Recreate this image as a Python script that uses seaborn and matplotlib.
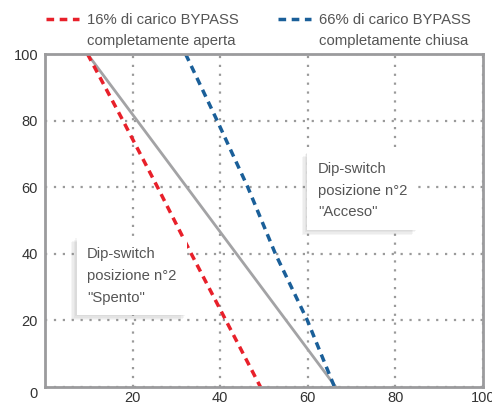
import numpy as np
import pandas as pd
import seaborn as sns
import matplotlib.pyplot as plt
from matplotlib.legend_handler import HandlerLine2D
from matplotlib import patheffects as pe

# data
load_pct = [100, 80, 60, 40, 20, 0]
red_x = [9.7, 17.8, 25.7, 33.4, 41.3, 49.2]
blue_x = [32.1, 39.3, 46.3, 52.6, 59.9, 66.1]
gray_x = [9.7, 66.4]
gray_y = [100, 0]

x_ticks = [20, 40, 60, 80, 100]
y_ticks = [0, 20, 40, 60, 80, 100]

red_label = "16% di carico BYPASS\ncompletamente aperta"
blue_label = "66% di carico BYPASS\ncompletamente chiusa"
box_off = "Dip-switch\nposizione n°2\n\"Spento\""
box_on = "Dip-switch\nposizione n°2\n\"Acceso\""

sns.set_style("white")
plt.rcParams['font.family'] = ['Liberation Sans', 'DejaVu Sans']

red_df = pd.DataFrame({'x': red_x, 'y': load_pct})
blue_df = pd.DataFrame({'x': blue_x, 'y': load_pct})
gray_df = pd.DataFrame({'x': gray_x, 'y': gray_y})

fig = plt.figure(figsize=(4.92, 4.05), dpi=100)
ax = fig.add_axes([45 / 492, 18 / 405, (483 - 45) / 492, (387 - 54) / 405])

sns.lineplot(data=gray_df, x='x', y='y', ax=ax, color='#a3a3a5', lw=2, sort=False)
sns.lineplot(data=red_df, x='x', y='y', ax=ax, color='#e8202a', lw=2.5,
             sort=False, label=red_label)
sns.lineplot(data=blue_df, x='x', y='y', ax=ax, color='#1a5f99', lw=2.5,
             sort=False, label=blue_label)
ax.lines[1].set_linestyle((0, (2.2, 1.6)))
ax.lines[2].set_linestyle((0, (2.2, 1.6)))

ax.set_xlim(0, 100)
ax.set_ylim(0, 100)
ax.set_xticks(x_ticks)
ax.set_yticks(y_ticks)
ax.set_xlabel('')
ax.set_ylabel('')
ax.grid(True, linestyle=(0, (1, 3)), color='#9a9a9a', lw=1.6)
ax.tick_params(length=0, labelsize=10.5, colors='#333333')
ax.tick_params(axis='x', pad=3)
ax.tick_params(axis='y', pad=5)
for s in ax.spines.values():
    s.set_color('#9b9b9d')
    s.set_linewidth(2)
ax.get_yticklabels()[0].set_va('top')


class TopLine(HandlerLine2D):
    # put the dashed handle level with the first line of the label
    def create_artists(self, legend, orig_handle, xdescent, ydescent,
                       width, height, fontsize, trans):
        arts = super().create_artists(legend, orig_handle, xdescent, ydescent,
                                      width, height, fontsize, trans)
        for a in arts:
            a.set_ydata(np.asarray(a.get_ydata()) + fontsize * 0.8)
        return arts


handles, labels = ax.get_legend_handles_labels()
leg = ax.legend(handles, labels, ncol=2, loc='lower left',
                bbox_to_anchor=(-0.015, 0.996), frameon=False, fontsize=10.7,
                handlelength=2.2, handletextpad=0.6, columnspacing=2.6,
                labelcolor='#555555', borderaxespad=0.1,
                handler_map={h: TopLine() for h in handles})
for t in leg.get_texts():
    t.set_linespacing(1.65)

# soft shadow built from a few faint offset copies
shadow = [pe.SimplePatchShadow(offset=(-k, -k), shadow_rgbFace='#777777', alpha=0.07)
          for k in (4, 3, 2, 1)] + [pe.Normal()]

for txt, xy in [(box_off, (9.6, 42.0)), (box_on, (62.3, 67.6))]:
    t = ax.text(xy[0], xy[1], txt, ha='left', va='top', fontsize=10.7,
                color='#555555', linespacing=1.7, zorder=5,
                bbox=dict(boxstyle='square,pad=0.7', fc='white', ec='none'))
    t.get_bbox_patch().set_path_effects(shadow)

fig.savefig('out.png', dpi=100)
